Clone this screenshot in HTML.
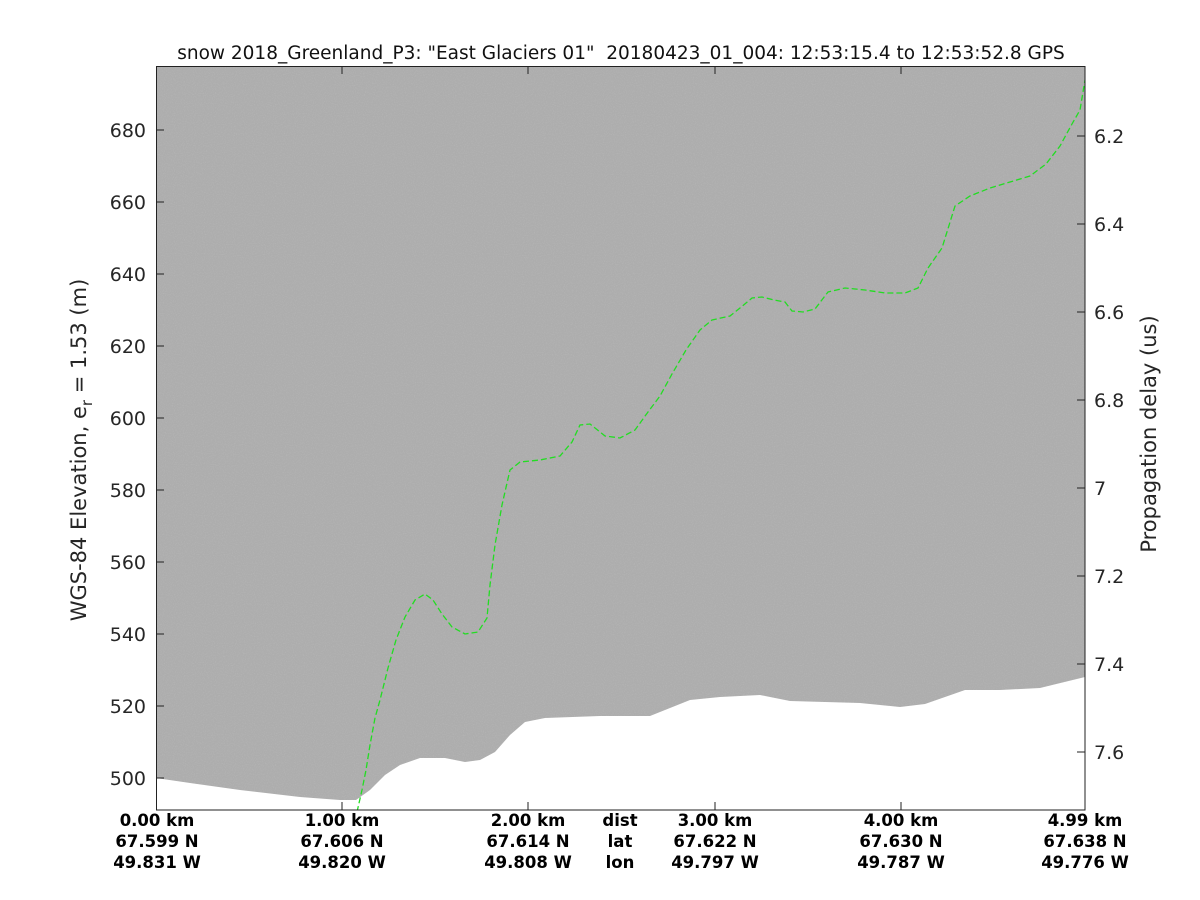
<!DOCTYPE html>
<html><head><meta charset="utf-8"><style>
body{margin:0;background:#fff;}
svg{display:block;font-family:"DejaVu Sans","Liberation Sans",sans-serif;}
</style></head><body>
<svg width="1200" height="900" viewBox="0 0 1200 900">
<defs>
<filter id="n" x="0" y="0" width="100%" height="100%">
<feTurbulence type="fractalNoise" baseFrequency="0.9" numOctaves="2" seed="3"/>
<feColorMatrix type="matrix" values="0 0 0 0 0.55  0 0 0 0 0.55  0 0 0 0 0.55  0 0 0 -2.2 1.25"/>
</filter>
<clipPath id="c"><rect x="156" y="66" width="929" height="744"/></clipPath>
</defs>
<rect width="1200" height="900" fill="#fff"/>
<g clip-path="url(#c)">
<rect x="156" y="66" width="929" height="744" fill="#adadad"/>
<rect x="156" y="66" width="929" height="744" filter="url(#n)" opacity="0.35"/>
<path d="M156,778 L190,783 L240,790 L300,797 L340,800 L356,800 L370,790 L385,775 L400,765 L420,758 L445,758 L465,762 L480,760 L495,752 L510,735 L525,722 L545,718 L600,716 L650,716 L690,700 L720,697 L760,695 L790,701 L860,703 L900,707 L925,704 L945,697 L965,690 L1000,690 L1040,688 L1085,677 L1085,812 L156,812 Z" fill="#fff"/>
<polyline fill="none" stroke="#22dd22" stroke-width="1.3" stroke-dasharray="6,3" points="357,812 362,790 366,770 370,745 375,718 380,700 388,668 396,640 405,617 415,600 425,594 433,600 442,614 452,627 465,634 478,632 487,618 490,585 495,545 502,505 510,470 520,462 540,460 560,456 572,442 580,425 590,424 605,436 620,438 635,430 648,412 660,396 672,374 686,350 700,330 712,320 730,316 740,308 752,298 762,297 774,300 785,302 792,311 803,312 815,309 828,292 845,288 865,290 885,293 905,293 918,288 928,268 942,248 955,206 970,196 990,188 1010,182 1030,176 1046,164 1060,146 1072,124 1080,110 1085,80"/>
</g>
<rect x="156.5" y="66.5" width="928.5" height="743.5" fill="none" stroke="#222" stroke-width="1"/>
<g stroke="#222" stroke-width="1">
<line x1="156" y1="130" x2="164" y2="130"/><line x1="156" y1="202" x2="164" y2="202"/><line x1="156" y1="274" x2="164" y2="274"/><line x1="156" y1="346" x2="164" y2="346"/><line x1="156" y1="418" x2="164" y2="418"/><line x1="156" y1="490" x2="164" y2="490"/><line x1="156" y1="562" x2="164" y2="562"/><line x1="156" y1="634" x2="164" y2="634"/><line x1="156" y1="706" x2="164" y2="706"/><line x1="156" y1="778" x2="164" y2="778"/>
<line x1="1077" y1="136" x2="1085" y2="136"/><line x1="1077" y1="224" x2="1085" y2="224"/><line x1="1077" y1="312" x2="1085" y2="312"/><line x1="1077" y1="400" x2="1085" y2="400"/><line x1="1077" y1="488" x2="1085" y2="488"/><line x1="1077" y1="576" x2="1085" y2="576"/><line x1="1077" y1="664" x2="1085" y2="664"/><line x1="1077" y1="752" x2="1085" y2="752"/>
<line x1="342" y1="810" x2="342" y2="802"/><line x1="528" y1="810" x2="528" y2="802"/><line x1="715" y1="810" x2="715" y2="802"/><line x1="901" y1="810" x2="901" y2="802"/>
<line x1="342" y1="66" x2="342" y2="74"/><line x1="528" y1="66" x2="528" y2="74"/><line x1="715" y1="66" x2="715" y2="74"/><line x1="901" y1="66" x2="901" y2="74"/>
</g>
<text x="621" y="59" font-size="18.5" text-anchor="middle" fill="#111" xml:space="preserve">snow 2018_Greenland_P3: "East Glaciers 01"  20180423_01_004: 12:53:15.4 to 12:53:52.8 GPS</text>
<g font-size="19" fill="#262626" text-anchor="end">
<text x="146" y="137">680</text><text x="146" y="209">660</text><text x="146" y="281">640</text><text x="146" y="353">620</text><text x="146" y="425">600</text><text x="146" y="497">580</text><text x="146" y="569">560</text><text x="146" y="641">540</text><text x="146" y="713">520</text><text x="146" y="785">500</text>
</g>
<g font-size="19" fill="#262626">
<text x="1094" y="143">6.2</text><text x="1094" y="231">6.4</text><text x="1094" y="319">6.6</text><text x="1094" y="407">6.8</text><text x="1094" y="495">7</text><text x="1094" y="583">7.2</text><text x="1094" y="671">7.4</text><text x="1094" y="759">7.6</text>
</g>
<text transform="translate(86,450) rotate(-90)" font-size="21" fill="#262626" text-anchor="middle">WGS-84 Elevation, e<tspan font-size="15" dy="6">r</tspan><tspan dy="-6"> = 1.53 (m)</tspan></text>
<text transform="translate(1156,434) rotate(-90)" font-size="21" fill="#262626" text-anchor="middle">Propagation delay (us)</text>
<g font-size="16.5" font-weight="bold" fill="#000" text-anchor="middle">
<text x="157" y="826">0.00 km</text><text x="157" y="847">67.599 N</text><text x="157" y="868">49.831 W</text>
<text x="342" y="826">1.00 km</text><text x="342" y="847">67.606 N</text><text x="342" y="868">49.820 W</text>
<text x="528" y="826">2.00 km</text><text x="528" y="847">67.614 N</text><text x="528" y="868">49.808 W</text>
<text x="620" y="826">dist</text><text x="620" y="847">lat</text><text x="620" y="868">lon</text>
<text x="715" y="826">3.00 km</text><text x="715" y="847">67.622 N</text><text x="715" y="868">49.797 W</text>
<text x="901" y="826">4.00 km</text><text x="901" y="847">67.630 N</text><text x="901" y="868">49.787 W</text>
<text x="1085" y="826">4.99 km</text><text x="1085" y="847">67.638 N</text><text x="1085" y="868">49.776 W</text>
</g>
</svg>
</body></html>
